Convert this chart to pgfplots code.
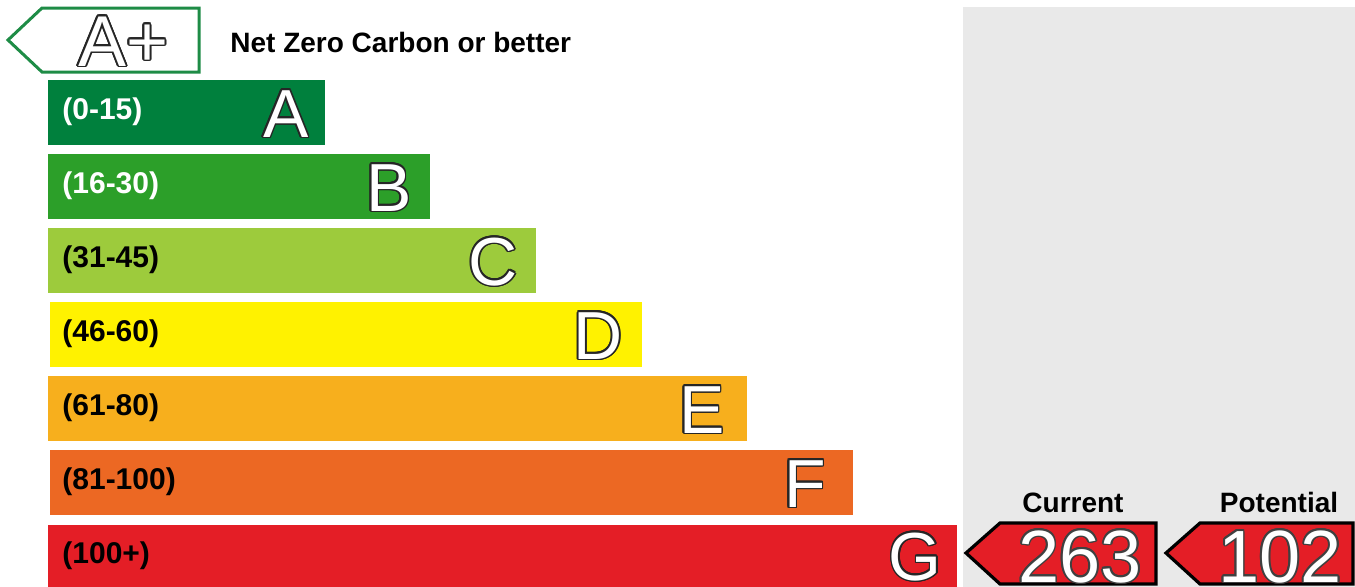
\documentclass[border=0pt]{standalone}
\usepackage{pgfplots}
\pgfplotsset{compat=1.18}
\usepackage{fontspec}
\setmainfont{Liberation Sans}
\usepackage{contour}
\contourlength{0.8pt}
\definecolor{cA}{RGB}{0,128,61}
\definecolor{cB}{RGB}{44,159,41}
\definecolor{cC}{RGB}{157,203,60}
\definecolor{cD}{RGB}{255,242,0}
\definecolor{cE}{RGB}{247,175,29}
\definecolor{cF}{RGB}{236,104,35}
\definecolor{cG}{RGB}{228,30,38}
\definecolor{cAp}{RGB}{30,140,70}
\definecolor{panel}{RGB}{233,233,233}
\newcommand{\bigletter}[1]{\fontsize{34}{34}\selectfont\contour{black!85}{#1}}
\begin{document}
\begin{tikzpicture}
\begin{axis}[width=677.5pt,height=293pt,scale only axis,
  xmin=0,xmax=1355,ymin=0,ymax=586,y dir=reverse,hide axis]
% grey panel
\addplot[fill=panel,draw=none] coordinates {(963,7) (1355,7) (1355,600) (963,600)} -- cycle;
% A+ arrow outline
\addplot[fill=white,draw=cAp,line width=1.5pt] coordinates {(8,40) (42,8) (199,8) (199,72) (42,72)} -- cycle;
% bars
\addplot[fill=cA,draw=none] coordinates {(48,80) (325,80) (325,145) (48,145)} -- cycle;
\addplot[fill=cB,draw=none] coordinates {(48,154) (430,154) (430,219) (48,219)} -- cycle;
\addplot[fill=cC,draw=none] coordinates {(48,228) (536,228) (536,293) (48,293)} -- cycle;
\addplot[fill=cD,draw=none] coordinates {(50,302) (642,302) (642,367) (50,367)} -- cycle;
\addplot[fill=cE,draw=none] coordinates {(48,376) (747,376) (747,441) (48,441)} -- cycle;
\addplot[fill=cF,draw=none] coordinates {(50,450) (853,450) (853,515) (50,515)} -- cycle;
\addplot[fill=cG,draw=none] coordinates {(48,525) (957,525) (957,600) (48,600)} -- cycle;
% current / potential arrows
\addplot[fill=cG,draw=black,line width=1.6pt] coordinates {(966,553) (1000,523) (1156,523) (1156,584) (1000,584)} -- cycle;
\addplot[fill=cG,draw=black,line width=1.6pt] coordinates {(1166,553) (1200,523) (1353,523) (1353,584) (1200,584)} -- cycle;
% texts
\node[anchor=base west,inner sep=0pt,font=\fontsize{36}{36}\selectfont,text=white] at (axis cs:78,66) {\contour{black!85}{A+}};
\node[anchor=base west,inner sep=0pt,font=\fontsize{14}{14}\selectfont\bfseries] at (axis cs:230,52) {Net Zero Carbon or better};
\node[anchor=west,inner sep=0pt,font=\fontsize{15}{15}\selectfont\bfseries,text=white] at (axis cs:62,112) {(0-15)};
\node[anchor=west,inner sep=0pt,font=\fontsize{15}{15}\selectfont\bfseries,text=white] at (axis cs:62,186) {(16-30)};
\node[anchor=west,inner sep=0pt,font=\fontsize{15}{15}\selectfont\bfseries] at (axis cs:62,260) {(31-45)};
\node[anchor=west,inner sep=0pt,font=\fontsize{15}{15}\selectfont\bfseries] at (axis cs:62,334) {(46-60)};
\node[anchor=west,inner sep=0pt,font=\fontsize{15}{15}\selectfont\bfseries] at (axis cs:62,408) {(61-80)};
\node[anchor=west,inner sep=0pt,font=\fontsize{15}{15}\selectfont\bfseries] at (axis cs:62,482) {(81-100)};
\node[anchor=west,inner sep=0pt,font=\fontsize{15}{15}\selectfont\bfseries] at (axis cs:62,556) {(100+)};
\node[anchor=base east,inner sep=0pt,text=white] at (axis cs:309,137) {\bigletter{A}};
\node[anchor=base east,inner sep=0pt,text=white] at (axis cs:412,211) {\bigletter{B}};
\node[anchor=base east,inner sep=0pt,text=white] at (axis cs:518,285) {\bigletter{C}};
\node[anchor=base east,inner sep=0pt,text=white] at (axis cs:623,359) {\bigletter{D}};
\node[anchor=base east,inner sep=0pt,text=white] at (axis cs:725,433) {\bigletter{E}};
\node[anchor=base east,inner sep=0pt,text=white] at (axis cs:826,507) {\bigletter{F}};
\node[anchor=base east,inner sep=0pt,text=white] at (axis cs:942,580) {\bigletter{G}};
\node[anchor=base,inner sep=0pt,font=\fontsize{14}{14}\selectfont\bfseries] at (axis cs:1073,512) {Current};
\node[anchor=base,inner sep=0pt,font=\fontsize{14}{14}\selectfont\bfseries] at (axis cs:1279,512) {Potential};
\node[anchor=base,inner sep=0pt,font=\fontsize{37}{37}\selectfont,text=white] at (axis cs:1080,582) {\contour{black!75}{263}};
\node[anchor=base,inner sep=0pt,font=\fontsize{37}{37}\selectfont,text=white] at (axis cs:1280,582) {\contour{black!75}{102}};
\end{axis}
\pgfresetboundingbox
\path[use as bounding box] (current axis.south west) rectangle (current axis.north east);
\end{tikzpicture}
\end{document}
